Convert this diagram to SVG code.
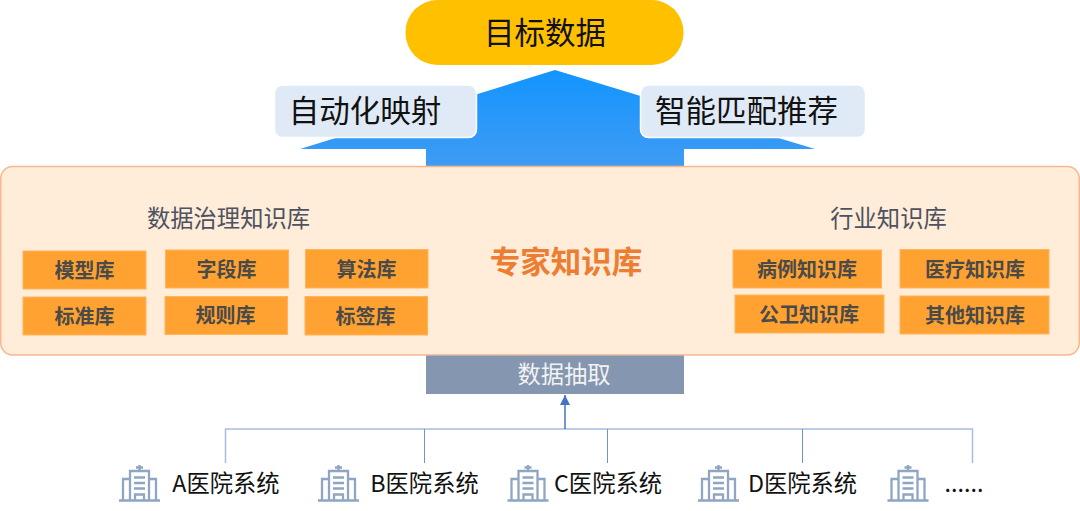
<svg xmlns="http://www.w3.org/2000/svg" width="1080" height="511" viewBox="0 0 1080 511">
<style>
text{font-family:"Noto Sans CJK SC","Noto Sans",sans-serif;text-anchor:middle;dominant-baseline:central}
.big{font-size:30.500px;fill:#111}
.sub{font-size:23.300px;fill:#4d5160}
.kb{fill:#ffa232;stroke:#ffb45c;stroke-width:1}
.kbt{font-size:20px;font-weight:700;fill:#4a4a48}
.tag{fill:#dfeaf6;stroke:#fff;stroke-width:1.5}
.hosp{font-size:23.300px;fill:#111}
.ln{fill:none;stroke:#a6bce2;stroke-width:1.5}
.ic{fill:none;stroke:#8fa5c2;stroke-width:2.300}
</style>
<defs>
<linearGradient id="g" gradientUnits="userSpaceOnUse" x1="0" y1="70" x2="0" y2="166"><stop offset="0" stop-color="#1295ff"/><stop offset="1" stop-color="#3f9bf3"/></linearGradient>
<marker id="ah" markerWidth="12" markerHeight="10" refX="10" refY="5" orient="auto" markerUnits="userSpaceOnUse"><path d="M0 0L10 5L0 10Z" fill="#4472c4"/></marker>
<symbol id="hospital" width="42" height="38" viewBox="0 0 42 38" overflow="visible">
<path class="ic" d="M0 36.500H41M4 36V15H11M37 36V15H30M11 36V7H30V36M20.500 1V7M17 3.500H24M15 13.500H26M15 19H26M15 24.500H26M16 36V30.500H25V36"/>
</symbol>
</defs>
<g id="arrow-up"><path d="M555 70L815 149H684V166H426V149H300Z" fill="url(#g)"/></g>
<g id="target"><rect x="405.500" y="0" width="278" height="65" rx="32" fill="#ffc000"/><text class="big" x="545" y="31">目标数据</text></g>
<g id="auto-map"><rect class="tag" x="274.500" y="85" width="202" height="52.500" rx="8"/><text class="big" x="365" y="109">自动化映射</text></g>
<g id="smart-match"><rect class="tag" x="640.500" y="85" width="225" height="52.500" rx="8"/><text class="big" x="746.500" y="109">智能匹配推荐</text></g>
<g id="expert-kb"><rect x="0.750" y="166.500" width="1078.500" height="188.500" rx="12" fill="#ffecd9" stroke="#f8b78f" stroke-width="1.500"/>
<text x="566" y="260" font-size="30.500" font-weight="700" fill="#ed7d31">专家知识库</text>
<text class="sub" x="228.500" y="217">数据治理知识库</text><text class="sub" x="888.500" y="217">行业知识库</text></g>
<g id="kb-model"><rect class="kb" x="23" y="251" width="123" height="38"/><text class="kbt" x="84.500" y="269">模型库</text></g>
<g id="kb-standard"><rect class="kb" x="23" y="297" width="123" height="38"/><text class="kbt" x="84.500" y="315">标准库</text></g>
<g id="kb-field"><rect class="kb" x="165.500" y="250" width="123" height="38"/><text class="kbt" x="226.500" y="268">字段库</text></g>
<g id="kb-rule"><rect class="kb" x="165" y="296.500" width="122.500" height="38"/><text class="kbt" x="225.500" y="314">规则库</text></g>
<g id="kb-algo"><rect class="kb" x="305.500" y="249.500" width="122.500" height="38.500"/><text class="kbt" x="366.500" y="268">算法库</text></g>
<g id="kb-tag"><rect class="kb" x="305" y="296.500" width="122.500" height="38.500"/><text class="kbt" x="365.500" y="315">标签库</text></g>
<g id="kb-case"><rect class="kb" x="733" y="250" width="148.500" height="38"/><text class="kbt" x="807" y="268">病例知识库</text></g>
<g id="kb-medical"><rect class="kb" x="900" y="249.500" width="149" height="38.500"/><text class="kbt" x="975" y="268">医疗知识库</text></g>
<g id="kb-public"><rect class="kb" x="735" y="295" width="149" height="38"/><text class="kbt" x="809" y="313">公卫知识库</text></g>
<g id="kb-other"><rect class="kb" x="900" y="296" width="149" height="38"/><text class="kbt" x="975" y="314">其他知识库</text></g>
<g id="extract"><rect x="426" y="355.500" width="258" height="38.500" fill="#8496b0"/><text x="564" y="373" font-size="23.300" fill="#f2f2f2">数据抽取</text></g>
<g id="connectors">
<path class="ln" d="M225.500 463V429H972.500V463"/>
<path d="M424.500 429V463M607.500 429V463M802.500 429V463" fill="none" stroke="#6f94d6" stroke-width="1"/>
<path d="M565 429V395" fill="none" stroke="#4472c4" stroke-width="1.500" marker-end="url(#ah)"/>
</g>
<g id="hosp-a"><use href="#hospital" x="119" y="464"/><text class="hosp" x="226" y="482">A医院系统</text></g>
<g id="hosp-b"><use href="#hospital" x="318" y="464"/><text class="hosp" x="424.500" y="482">B医院系统</text></g>
<g id="hosp-c"><use href="#hospital" x="507.500" y="464"/><text class="hosp" x="608" y="482">C医院系统</text></g>
<g id="hosp-d"><use href="#hospital" x="698" y="464"/><text class="hosp" x="802.500" y="482">D医院系统</text></g>
<g id="hosp-more"><use href="#hospital" x="887.500" y="464"/><text class="hosp" x="964" y="482">......</text></g>
</svg>
